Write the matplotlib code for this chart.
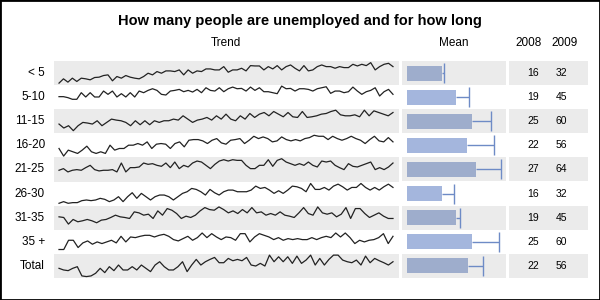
import matplotlib
matplotlib.use("Agg")
import matplotlib.pyplot as plt
from matplotlib.patches import Rectangle
import numpy as np

plt.rcParams['font.family'] = ['Liberation Sans', 'DejaVu Sans']

labels = ['< 5', '5-10', '11-15', '16-20', '21-25', '26-30', '31-35', '35 +', 'Total']

# trend series (same scale for every row)
trend = [
    [6, 19, 9, 21, 11, 21, 19, 16, 23, 24, 29, 31, 13, 26, 21, 29, 24, 21, 19, 26,
     36, 31, 41, 36, 43, 43, 41, 46, 31, 46, 36, 43, 41, 49, 49, 46, 46, 56, 39, 46,
     46, 51, 43, 59, 58, 58, 46, 56, 49, 59, 46, 56, 61, 51, 43, 59, 43, 46, 56, 61,
     56, 56, 51, 56, 53, 53, 63, 58, 63, 59, 68, 46, 56, 63, 66, 56],
    [38, 38, 35, 30, 30, 50, 37, 50, 37, 37, 55, 45, 55, 37, 47, 37, 50, 37, 55, 50,
     57, 62, 57, 45, 43, 55, 57, 60, 53, 57, 52, 60, 50, 65, 57, 55, 65, 53, 62, 67,
     62, 63, 55, 67, 57, 65, 53, 53, 50, 47, 70, 62, 63, 55, 62, 62, 60, 55, 62, 65,
     68, 48, 55, 55, 50, 53, 67, 55, 45, 53, 57, 65, 40, 53, 60, 45],
    [28, 16, 23, 8, 23, 33, 31, 28, 38, 23, 33, 43, 40, 38, 33, 23, 38, 26, 38, 26,
     38, 33, 38, 38, 43, 40, 53, 43, 33, 40, 43, 48, 40, 53, 43, 58, 43, 38, 53, 43,
     60, 48, 58, 63, 53, 66, 58, 50, 63, 50, 48, 66, 48, 50, 53, 58, 60, 66, 70, 56,
     53, 53, 56, 50, 70, 53, 68, 63, 58, 53, 63],
    [27, 4, 22, 17, 12, 22, 34, 17, 12, 17, 12, 37, 22, 27, 27, 37, 37, 42, 37, 47,
     27, 40, 42, 40, 27, 42, 47, 32, 52, 54, 54, 50, 42, 52, 57, 44, 40, 52, 54, 57,
     42, 52, 64, 57, 62, 57, 47, 50, 62, 54, 50, 54, 50, 57, 60, 67, 64, 64, 54, 64,
     57, 52, 57, 64, 57, 52, 42, 54, 64, 50, 47, 60, 47],
    [34, 39, 29, 34, 36, 34, 42, 49, 36, 32, 34, 34, 36, 29, 56, 29, 42, 42, 44, 56,
     52, 54, 49, 46, 56, 42, 59, 39, 49, 44, 56, 62, 59, 49, 39, 52, 62, 66, 62, 66,
     64, 64, 49, 39, 39, 49, 49, 66, 46, 64, 69, 59, 54, 49, 54, 49, 59, 49, 44, 62,
     59, 62, 49, 42, 36, 54, 46, 44, 49, 54, 59, 36, 42, 36, 44, 56],
    [7, 12, 7, 9, 9, 15, 17, 15, 17, 22, 19, 12, 17, 27, 12, 27, 39, 22, 37, 27,
     17, 27, 32, 32, 27, 17, 27, 37, 42, 52, 49, 42, 32, 49, 39, 32, 42, 47, 47, 42,
     42, 42, 47, 59, 52, 55, 47, 37, 45, 37, 47, 59, 57, 52, 42, 67, 49, 49, 55, 47,
     59, 65, 57, 47, 55, 55, 67, 55, 47, 55, 47, 57, 65, 55],
    [39, 37, 17, 31, 24, 27, 31, 27, 21, 29, 31, 37, 44, 39, 37, 34, 54, 51, 44, 47,
     34, 57, 44, 64, 59, 49, 34, 41, 37, 44, 57, 67, 61, 59, 69, 61, 51, 57, 49, 61,
     51, 67, 51, 54, 44, 49, 44, 54, 44, 41, 37, 51, 67, 49, 44, 69, 51, 47, 51, 39,
     47, 67, 34, 64, 64, 49, 37, 44, 51, 41, 34, 34],
    [13, 13, 41, 41, 19, 33, 39, 29, 36, 31, 36, 41, 33, 53, 36, 51, 49, 53, 56, 56,
     51, 56, 59, 53, 43, 39, 46, 53, 41, 49, 63, 49, 61, 51, 43, 51, 49, 41, 61, 61,
     36, 51, 61, 56, 51, 43, 49, 41, 46, 43, 46, 43, 43, 49, 43, 49, 53, 49, 63, 51,
     63, 49, 31, 41, 36, 41, 43, 49, 61, 31, 53],
    [29, 24, 22, 29, 34, 6, 4, 6, 14, 29, 16, 34, 22, 39, 24, 24, 34, 24, 39, 29,
     19, 39, 49, 34, 24, 24, 34, 49, 19, 39, 56, 39, 49, 56, 62, 46, 46, 59, 52, 56,
     52, 62, 39, 36, 44, 36, 69, 49, 64, 49, 64, 44, 66, 44, 54, 69, 39, 59, 39, 56,
     69, 69, 54, 49, 46, 54, 39, 66, 46, 59, 52, 46, 39, 49],
]

mean = [23, 32.2, 42.8, 39.5, 45.4, 23, 32, 42.8, 40]
err = [1.5, 8.5, 12.5, 17.5, 16.5, 8, 3, 18, 10]
y2008 = [16, 19, 25, 22, 27, 16, 19, 25, 22]
y2009 = [32, 45, 60, 56, 64, 32, 45, 60, 56]

W, H = 600, 300
GRAY = '#ebebeb'
top0, pitch = 61, 24.1
n = len(labels)

fig = plt.figure(figsize=(6, 3), dpi=100)


def pax(x0, y0, w, h):
    return fig.add_axes([x0 / W, 1 - (y0 + h) / H, w / W, h / H])


def clean(ax):
    ax.set_xticks([])
    ax.set_yticks([])
    for s in ax.spines.values():
        s.set_visible(False)


fig.text(0.5, 1 - 21 / H, 'How many people are unemployed and for how long',
         ha='center', va='center', fontsize=10.5, weight='bold')
hy = 1 - 43 / H
fig.text(226 / W, hy, 'Trend', ha='center', va='center', fontsize=8.5)
fig.text(454 / W, hy, 'Mean', ha='center', va='center', fontsize=8.5)
fig.text(529 / W, hy, '2008', ha='center', va='center', fontsize=8.5)
fig.text(565 / W, hy, '2009', ha='center', va='center', fontsize=8.5)

# sparklines, one axes per row
for i, s in enumerate(trend):
    ax = pax(54, top0 + i * pitch, 345, pitch)
    clean(ax)
    ax.set_facecolor(GRAY if i % 2 == 0 else 'white')
    x = np.arange(len(s))
    ax.plot(x, s, color='#222222', lw=0.9)
    span = len(s) - 1
    ax.set_xlim(-0.015 * span, span * 1.018)
    ax.set_ylim(0, 73)
    fig.text(45 / W, 1 - (top0 + (i + 0.5) * pitch) / H, labels[i],
             ha='right', va='center', fontsize=8.5)

rows = np.arange(n)

# mean bars
axm = pax(402, top0, 104, n * pitch)
clean(axm)
for i in rows[::2]:
    axm.axhspan(i - 0.5, i + 0.5, color=GRAY, lw=0, zorder=0)
colors = ['#9eadcc' if i % 2 == 0 else '#a4b6dd' for i in rows]
axm.barh(rows, mean, height=0.62, color=colors, zorder=2)
eb = axm.errorbar(mean, rows, xerr=[np.zeros(n), err], fmt='none',
                  ecolor='#6e8bc6', elinewidth=1, capsize=7, capthick=1, zorder=3)
# keep only the cap at the right end
eb[1][0].set_visible(False)
axm.set_xlim(-3.3, 65.1)
axm.set_ylim(n - 0.5, -0.5)

# numbers
axn = pax(509, top0, 79, n * pitch)
clean(axn)
for i in rows[::2]:
    axn.axhspan(i - 0.5, i + 0.5, color=GRAY, lw=0, zorder=0)
for i in rows:
    axn.text(533, i, str(y2008[i]), ha='center', va='center', fontsize=7.5)
    axn.text(561, i, str(y2009[i]), ha='center', va='center', fontsize=7.5)
axn.set_xlim(509, 588)
axn.set_ylim(n - 0.5, -0.5)

fig.patches.append(Rectangle((0, 0), 1, 1, transform=fig.transFigure,
                             fill=False, ec='black', lw=2, zorder=10))

fig.savefig('out.png', dpi=100)
